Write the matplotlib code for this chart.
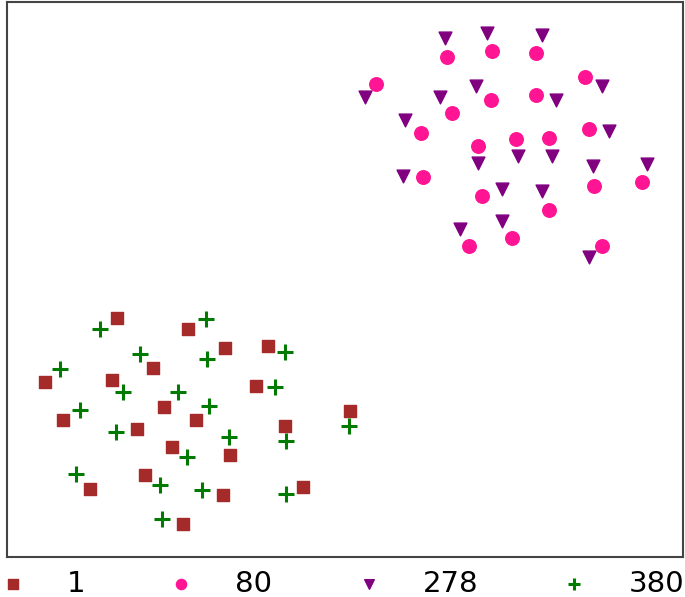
import matplotlib
matplotlib.use("Agg")
import matplotlib.pyplot as plt

labels = ["1", "80", "278", "380"]

x_1 = [117, 188, 225, 268, 153, 45, 112, 256, 164, 63, 137, 196, 285, 350, 172, 230, 145, 90, 223, 303, 183]
y_1 = [318, 329, 348, 346, 368, 382, 380, 386, 407, 420, 429, 420, 426, 411, 447, 455, 475, 489, 495, 487, 524]

x_380 = [100, 206, 140, 207, 285, 60, 123, 178, 275, 80, 209, 116, 229, 286, 349, 187, 76, 160, 202, 286, 162]
y_380 = [329, 319, 354, 359, 352, 369, 392, 392, 387, 410, 406, 432, 437, 441, 426, 457, 474, 485, 490, 494, 519]

x_80 = [447, 492, 536, 376, 585, 491, 536, 452, 421, 589, 516, 549, 478, 423, 594, 642, 482, 549, 512, 469, 602]
y_80 = [57, 51, 53, 84, 77, 100, 95, 113, 133, 129, 139, 138, 146, 177, 186, 182, 196, 210, 238, 246, 246]

x_278 = [445, 487, 542, 365, 476, 440, 602, 556, 405, 609, 478, 518, 552, 593, 647, 403, 502, 542, 460, 502, 589]
y_278 = [38, 33, 35, 97, 86, 97, 86, 100, 120, 131, 163, 156, 156, 166, 164, 176, 189, 191, 229, 221, 257]

fig = plt.figure(figsize=(6.85, 5.97), dpi=100)
ax = fig.add_axes([7/685, 1 - 557/597, 676/685, 555/597])

ax.scatter(x_1, y_1, marker="s", s=85, color="#A52A2A", label=labels[0])
ax.scatter(x_80, y_80, marker="o", s=95, color="#FF1493", label=labels[1])
ax.scatter(x_278, y_278, marker="v", s=85, color="#800080", label=labels[2])
ax.scatter(x_380, y_380, marker="+", s=130, color="#007A00", linewidths=2.2, label=labels[3])

ax.set_xlim(7, 683)
ax.set_ylim(557, 2)
ax.set_xticks([])
ax.set_yticks([])
for sp in ax.spines.values():
    sp.set_color("#444444")
    sp.set_linewidth(1.5)

leg = fig.legend(loc="center", bbox_to_anchor=(341/685, 1 - 584/597), ncol=4, frameon=False,
                 fontsize=21, markerscale=0.75, handletextpad=1.35, columnspacing=2.8,
                 handlelength=1.0, borderpad=0.0, borderaxespad=0.0)

fig.savefig("out.png", dpi=100)
